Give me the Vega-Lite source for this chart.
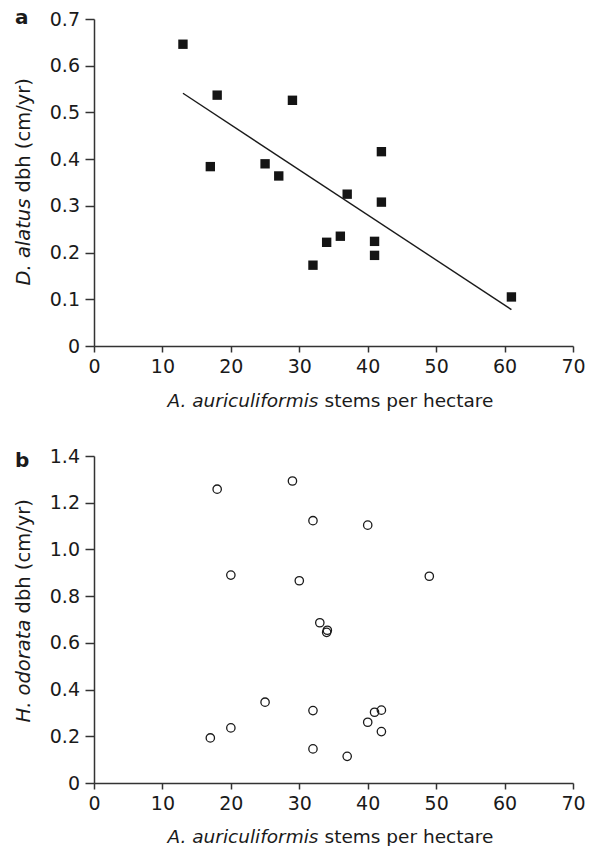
{
  "$schema": "https://vega.github.io/schema/vega-lite/v6.json",
  "background": "white",
  "padding": {"left": 13, "top": 8, "right": 5, "bottom": 0},
  "bounds": "flush",
  "spacing": 110,
  "datasets": {
    "panelA": [
      {"stems": 13, "dbh": 0.646}, {"stems": 18, "dbh": 0.537}, {"stems": 17, "dbh": 0.384},
      {"stems": 29, "dbh": 0.526}, {"stems": 25, "dbh": 0.390}, {"stems": 27, "dbh": 0.364},
      {"stems": 42, "dbh": 0.416}, {"stems": 37, "dbh": 0.325}, {"stems": 42, "dbh": 0.308},
      {"stems": 34, "dbh": 0.222}, {"stems": 36, "dbh": 0.235}, {"stems": 41, "dbh": 0.224},
      {"stems": 41, "dbh": 0.194}, {"stems": 32, "dbh": 0.173}, {"stems": 61, "dbh": 0.105}
    ],
    "fitA": [
      {"stems": 13, "dbh": 0.541}, {"stems": 61, "dbh": 0.078}
    ],
    "panelB": [
      {"stems": 18, "dbh": 1.258}, {"stems": 29, "dbh": 1.293}, {"stems": 32, "dbh": 1.123},
      {"stems": 40, "dbh": 1.104}, {"stems": 20, "dbh": 0.890}, {"stems": 30, "dbh": 0.866},
      {"stems": 49, "dbh": 0.885}, {"stems": 33, "dbh": 0.686}, {"stems": 34.1, "dbh": 0.654},
      {"stems": 34, "dbh": 0.645}, {"stems": 25, "dbh": 0.346}, {"stems": 32, "dbh": 0.310},
      {"stems": 41, "dbh": 0.303}, {"stems": 42, "dbh": 0.312}, {"stems": 40, "dbh": 0.260},
      {"stems": 42, "dbh": 0.220}, {"stems": 20, "dbh": 0.236}, {"stems": 17, "dbh": 0.193},
      {"stems": 32, "dbh": 0.146}, {"stems": 37, "dbh": 0.114}
    ]
  },
  "vconcat": [
    {
      "width": 479,
      "height": 327,
      "title": {"text": "a", "anchor": "start", "frame": "group", "orient": "top", "baseline": "alphabetic", "font": "DejaVu Sans", "fontSize": 20, "fontWeight": "bold", "color": "#1a1a1a", "offset": 0, "dx": -79, "dy": 34},
      "resolve": {"axis": {"x": "independent", "y": "independent"}},
      "layer": [
        {
          "data": {"name": "panelA"},
          "mark": {"type": "square", "filled": true, "size": 88, "color": "#141414", "opacity": 1},
          "encoding": {
            "x": {"field": "stems", "type": "quantitative", "scale": {"domain": [0, 70], "nice": false, "zero": true},
              "axis": {"orient": "bottom", "values": [0, 10, 20, 30, 40, 50, 60, 70], "tickSize": 6, "labelPadding": 5,
                "title": "stems per hectare", "titleFontSize": 18.5, "titleFontStyle": "normal", "titleX": 230, "titleY": 60.8, "titleAlign": "left", "titleBaseline": "alphabetic"}},
            "y": {"field": "dbh", "type": "quantitative", "scale": {"domain": [0, 0.7], "nice": false, "zero": true},
              "axis": {"orient": "left", "values": [0, 0.1, 0.2, 0.3, 0.4, 0.5, 0.6, 0.7], "tickSize": 9, "labelPadding": 5.5,
                "labelExpr": "datum.value == 0 ? '0' : format(datum.value, '.1f')",
                "title": "dbh (cm/yr)", "titleFontStyle": "normal", "titleAngle": -90, "titleX": -64.5, "titleY": 173, "titleAlign": "left", "titleBaseline": "alphabetic"}}
          }
        },
        {
          "data": {"name": "fitA"},
          "mark": {"type": "line", "color": "#1a1a1a", "strokeWidth": 1.4},
          "encoding": {
            "x": {"field": "stems", "type": "quantitative",
              "axis": {"orient": "bottom", "labels": false, "ticks": false, "domain": false,
                "title": "A. auriculiformis", "titleFontSize": 18.5, "titleFontStyle": "italic", "titleX": 224, "titleY": 60.8, "titleAlign": "right", "titleBaseline": "alphabetic"}},
            "y": {"field": "dbh", "type": "quantitative",
              "axis": {"orient": "left", "labels": false, "ticks": false, "domain": false,
                "title": "D. alatus", "titleFontStyle": "italic", "titleAngle": -90, "titleX": -64.5, "titleY": 266, "titleAlign": "left", "titleBaseline": "alphabetic"}}
          }
        }
      ]
    },
    {
      "width": 479,
      "height": 327,
      "title": {"text": "b", "anchor": "start", "frame": "group", "orient": "top", "baseline": "alphabetic", "font": "DejaVu Sans", "fontSize": 20, "fontWeight": "bold", "color": "#1a1a1a", "offset": 0, "dx": -79, "dy": 40},
      "resolve": {"axis": {"x": "independent", "y": "independent"}},
      "layer": [
        {
          "data": {"name": "panelB"},
          "mark": {"type": "point", "shape": "circle", "filled": false, "size": 70, "color": "#1a1a1a", "strokeWidth": 1.3, "opacity": 1},
          "encoding": {
            "x": {"field": "stems", "type": "quantitative", "scale": {"domain": [0, 70], "nice": false, "zero": true},
              "axis": {"orient": "bottom", "values": [0, 10, 20, 30, 40, 50, 60, 70], "tickSize": 6, "labelPadding": 5,
                "title": "stems per hectare", "titleFontSize": 18.5, "titleFontStyle": "normal", "titleX": 230, "titleY": 59.5, "titleAlign": "left", "titleBaseline": "alphabetic"}},
            "y": {"field": "dbh", "type": "quantitative", "scale": {"domain": [0, 1.4], "nice": false, "zero": true},
              "axis": {"orient": "left", "values": [0, 0.2, 0.4, 0.6, 0.8, 1.0, 1.2, 1.4], "tickSize": 9, "labelPadding": 5.5,
                "labelExpr": "datum.value == 0 ? '0' : format(datum.value, '.1f')",
                "title": "dbh (cm/yr)", "titleFontStyle": "normal", "titleAngle": -90, "titleX": -64.5, "titleY": 157, "titleAlign": "left", "titleBaseline": "alphabetic"}}
          }
        },
        {
          "data": {"name": "panelB"},
          "mark": {"type": "point", "shape": "circle", "filled": false, "size": 70, "opacity": 0},
          "encoding": {
            "x": {"field": "stems", "type": "quantitative",
              "axis": {"orient": "bottom", "labels": false, "ticks": false, "domain": false,
                "title": "A. auriculiformis", "titleFontSize": 18.5, "titleFontStyle": "italic", "titleX": 224, "titleY": 59.5, "titleAlign": "right", "titleBaseline": "alphabetic"}},
            "y": {"field": "dbh", "type": "quantitative",
              "axis": {"orient": "left", "labels": false, "ticks": false, "domain": false,
                "title": "H. odorata", "titleFontStyle": "italic", "titleAngle": -90, "titleX": -64.5, "titleY": 266, "titleAlign": "left", "titleBaseline": "alphabetic"}}
          }
        }
      ]
    }
  ],
  "config": {
    "view": {"stroke": null},
    "font": "DejaVu Sans",
    "axis": {
      "grid": false,
      "labelFont": "DejaVu Sans", "labelFontSize": 19, "labelColor": "#1a1a1a", "labelFlush": false, "labelOverlap": false,
      "titleFont": "DejaVu Sans", "titleFontSize": 19.5, "titleFontWeight": "normal", "titleColor": "#1a1a1a",
      "domainColor": "#333333", "domainWidth": 1.5, "tickColor": "#333333", "tickWidth": 1.5
    }
  }
}
